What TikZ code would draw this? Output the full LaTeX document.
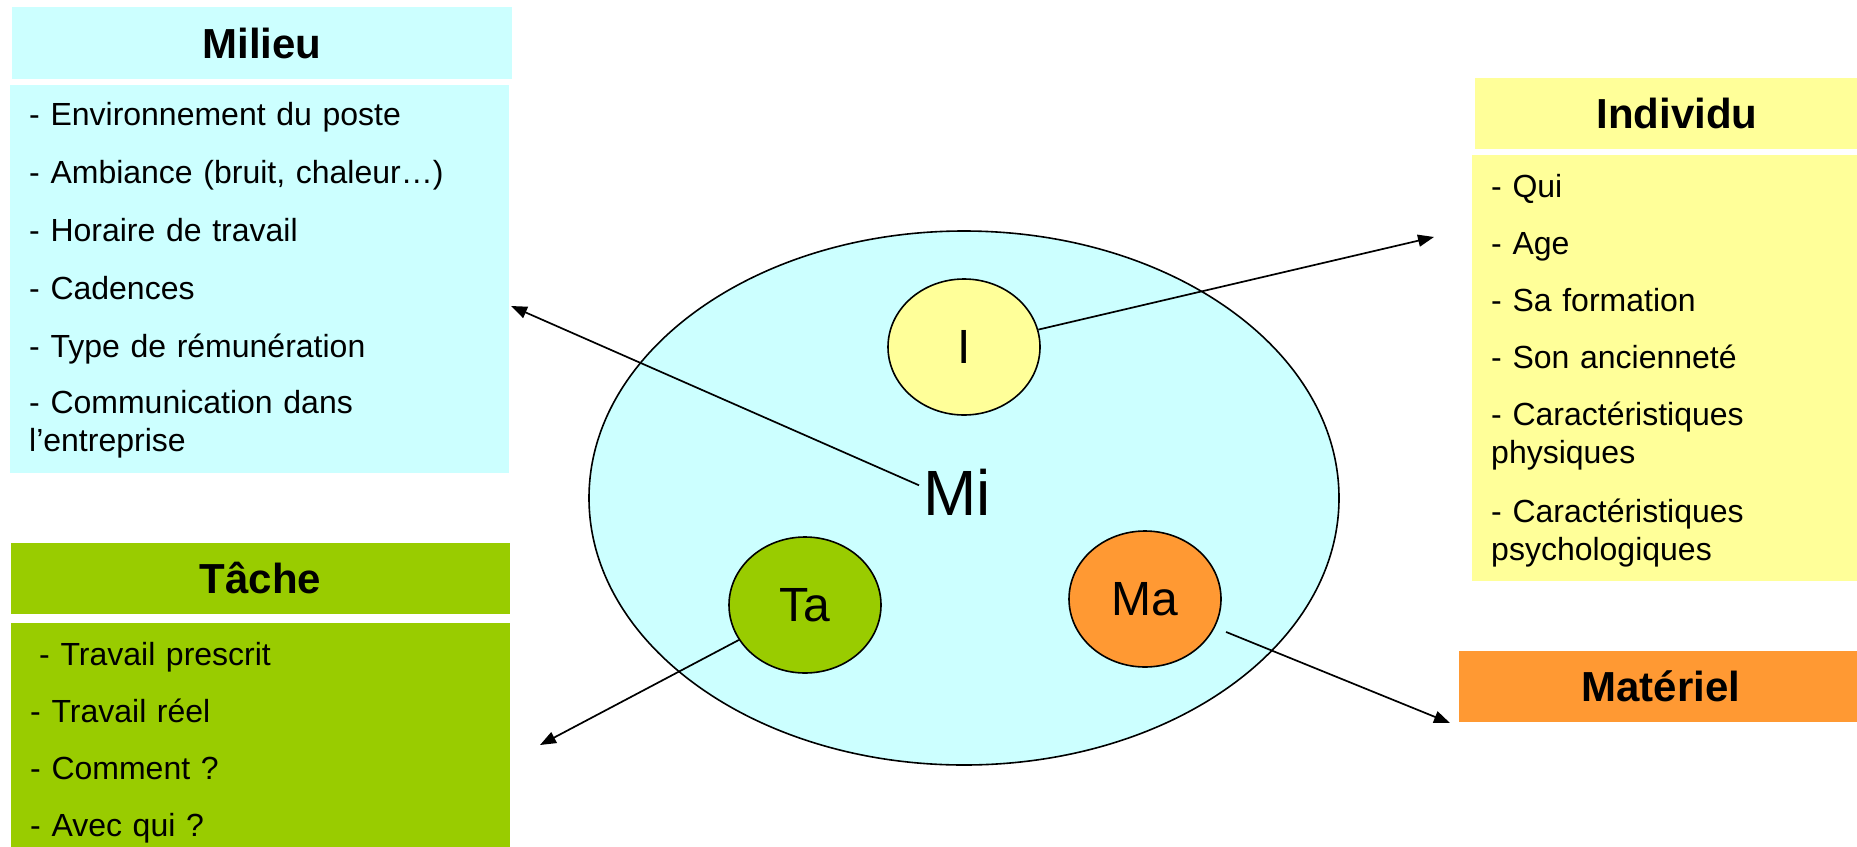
\documentclass[tikz,border=0pt]{standalone}
\usepackage{fontspec}
\setmainfont{Liberation Sans}
\usetikzlibrary{arrows.meta,shapes.geometric}
\definecolor{milieucol}{HTML}{CCFFFF}
\definecolor{individucol}{HTML}{FFFF99}
\definecolor{tachecol}{HTML}{99CC00}
\definecolor{materielcol}{HTML}{FF9933}
\tikzset{
  boxhead/.style={fill=#1, minimum width=404pt, minimum height=71pt, inner sep=0pt,
    font=\fontsize{42}{48}\selectfont\bfseries},
  boxbody/.style={fill=#1, anchor=north west, inner sep=0pt},
  itemlist/.style={anchor=base west, inner sep=0pt, text width=460pt, align=left,
    font=\fontsize{32}{38}\selectfont},
  letternode/.style={ellipse, draw, line width=1.6pt, fill=#1, minimum width=152pt,
    minimum height=136pt, inner sep=0pt, font=\fontsize{48}{56}\selectfont},
  link/.style={line width=1.7pt, -{Triangle[length=16pt,width=12pt]}}
}
\begin{document}
\begin{tikzpicture}[x=1pt,y=-1pt]
  \useasboundingbox (0,0) rectangle (1857,846);

  \node[boxhead=milieucol, minimum width=500pt, minimum height=72pt] (milieuhead) at (262,43) {Milieu};
  \node[boxbody=milieucol, minimum width=499pt, minimum height=388pt] (milieubody) at (10,85) {};
  \node[itemlist] (milieulist) at (29,125) {- Environnement du poste\\[20pt]
    - Ambiance (bruit, chaleur…)\\[20pt]
    - Horaire de travail\\[20pt]
    - Cadences\\[20pt]
    - Type de rémunération\\[18pt]
    - Communication dans\\
    l’entreprise};

  \node[boxhead=tachecol, minimum width=499pt] (tachehead) at (260.5,578.5) {Tâche};
  \node[boxbody=tachecol, minimum width=499pt, minimum height=240pt] (tachebody) at (11,623) {};
  \node[itemlist] (tachelist) at (30,665) {\hspace*{9pt}- Travail prescrit\\[19pt]
    - Travail réel\\[19pt]
    - Comment ?\\[19pt]
    - Avec qui ?};

  \node[boxhead=individucol] (individuhead) at (1677,113.5) {Individu};
  \node[boxbody=individucol, minimum width=410pt, minimum height=426pt] (individubody) at (1472,155) {};
  \node[itemlist, text width=360pt] (individulist) at (1491,197) {- Qui\\[19pt]
    - Age\\[19pt]
    - Sa formation\\[19pt]
    - Son ancienneté\\[19pt]
    - Caractéristiques\\
    physiques\\[21pt]
    - Caractéristiques\\
    psychologiques};

  \node[boxhead=materielcol] (materielhead) at (1661,686.5) {Matériel};

  \node[ellipse, draw, line width=1.6pt, fill=milieucol, minimum width=750pt,
    minimum height=534pt] (zone) at (964,498) {};
  \node[inner sep=4pt, font=\fontsize{64}{72}\selectfont] (mi) at (957,492) {Mi};
  \node[letternode=individucol] (i) at (964,347) {I};
  \node[letternode=tachecol] (ta) at (805,605) {Ta};
  \node[letternode=materielcol] (ma) at (1145,599) {Ma};

  \coordinate (milieutip) at (511,306);
  \coordinate (individutip) at (1434,237);
  \coordinate (tachetip) at (540,745);
  \coordinate (materieltip) at (1450,723);

  \draw[link] (mi.170) -- (milieutip);
  \draw[link] (i) -- (individutip);
  \draw[link] (ta) -- (tachetip);
  \draw[link, shorten <=12pt] (ma) -- (materieltip);
\end{tikzpicture}
\end{document}
